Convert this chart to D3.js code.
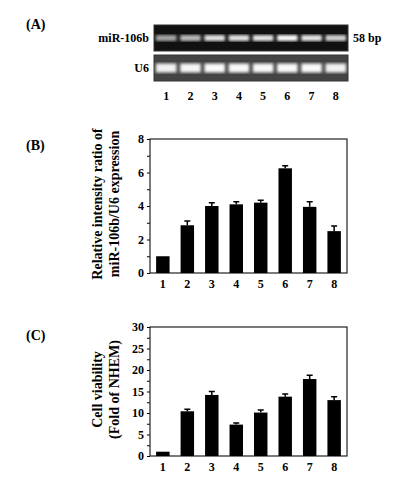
<!DOCTYPE html>
<html><head><meta charset="utf-8">
<script src="https://cdn.jsdelivr.net/npm/d3@7"></script>
<style>
body{margin:0;background:#fff}
text{font-family:"Liberation Serif","DejaVu Serif",serif;font-weight:bold}
</style></head><body>
<script>
const lanes = ["1","2","3","4","5","6","7","8"];
const mirBand = [0.55, 0.62, 0.8, 0.8, 0.82, 0.95, 0.82, 0.72];
const u6Band = [0.9, 0.93, 0.97, 0.95, 0.95, 0.95, 0.95, 0.9];
const ratio = [1, 2.85, 4.0, 4.1, 4.2, 6.25, 3.95, 2.5];
const ratioErr = [0, 0.25, 0.2, 0.15, 0.15, 0.15, 0.3, 0.3];
const viability = [1, 10.4, 14.2, 7.3, 10.1, 13.8, 17.9, 13.0];
const viabilityErr = [0, 0.5, 0.8, 0.4, 0.6, 0.6, 0.9, 0.8];

const svg = d3.select("body").append("svg").attr("width", 400).attr("height", 492);
const defs = svg.append("defs");
defs.append("filter").attr("id", "blur").append("feGaussianBlur").attr("stdDeviation", 1.8);

const panelLabel = (t, x, y) => svg.append("text").attr("x", x).attr("y", y).attr("font-size", 14).text(t);
panelLabel("(A)", 26, 29);
panelLabel("(B)", 26, 150);
panelLabel("(C)", 26, 340);

// gel
const gx = d3.scaleBand().domain(lanes).range([154, 348]).paddingInner(0.15).paddingOuter(0.08);
function gel(y, h, vals, bg, label, bh) {
  svg.append("rect").attr("x", 154).attr("y", y).attr("width", 194).attr("height", h).attr("fill", bg).attr("stroke", "#333");
  svg.append("g").attr("filter", "url(#blur)").selectAll("rect").data(vals).join("rect")
    .attr("x", (d, i) => gx(lanes[i])).attr("width", gx.bandwidth())
    .attr("y", y + h / 2 - bh / 2).attr("height", bh)
    .attr("fill", d => d3.interpolateGreys(1 - d));
  svg.append("text").attr("x", 149).attr("y", y + h / 2 + 4).attr("text-anchor", "end").attr("font-size", 12).text(label);
}
gel(25, 26, mirBand, "#111", "miR-106b", 6);
gel(55, 26, u6Band, "#444", "U6", 9);
svg.append("text").attr("x", 353).attr("y", 42).attr("font-size", 12).text("58 bp");
svg.append("g").selectAll("text").data(lanes).join("text")
  .attr("x", d => gx(d) + gx.bandwidth() / 2).attr("y", 100).attr("text-anchor", "middle").attr("font-size", 12).text(d => d);

function barChart(top, bottom, max, step, vals, errs, titleLines) {
  const x = d3.scaleBand().domain(lanes).range([150, 347]).paddingInner(0.45).paddingOuter(0.25);
  const y = d3.scaleLinear().domain([0, max]).range([bottom, top]);
  const g = svg.append("g");
  g.append("g").attr("transform", `translate(150,0)`)
    .call(d3.axisLeft(y).tickValues(d3.range(0, max + 0.01, step / 2)).tickSize(3)
      .tickFormat(d => (Math.abs(d / step - Math.round(d / step)) < 1e-6 ? d : "")))
    .call(a => a.selectAll("text").attr("font-size", 12).attr("fill", "#000").style("font-family", "Liberation Serif").style("font-weight", "bold"))
    .call(a => a.select(".domain").remove());
  g.append("rect").attr("x", 150).attr("y", top).attr("width", 197).attr("height", bottom - top)
    .attr("fill", "none").attr("stroke", "#222").attr("stroke-width", 1.2);
  g.selectAll(".bar").data(vals).join("rect").attr("class", "bar")
    .attr("x", (d, i) => x(lanes[i])).attr("width", x.bandwidth())
    .attr("y", d => y(d)).attr("height", d => bottom - y(d)).attr("fill", "#000");
  g.selectAll(".err").data(vals).join("path").attr("class", "err")
    .attr("d", (d, i) => {
      const cx = x(lanes[i]) + x.bandwidth() / 2, e = y(d + errs[i]);
      return errs[i] ? `M${cx},${y(d)}V${e}M${cx - 3},${e}H${cx + 3}` : "";
    }).attr("stroke", "#000").attr("stroke-width", 1.5);
  g.append("g").selectAll("text").data(lanes).join("text")
    .attr("x", d => x(d) + x.bandwidth() / 2).attr("y", bottom + 15).attr("text-anchor", "middle").attr("font-size", 12).text(d => d);
  const t = g.append("text").attr("transform", `translate(102,${(top + bottom) / 2 - 2}) rotate(-90)`)
    .attr("text-anchor", "middle").attr("font-size", 14);
  titleLines.forEach((l, i) => t.append("tspan").attr("x", 0).attr("dy", i ? 17 : 0).text(l));
}
barChart(139, 273, 8, 2, ratio, ratioErr, ["Relative intensity ratio of", "miR-106b/U6  expression"]);
barChart(327, 456, 30, 5, viability, viabilityErr, ["Cell  viability", "(Fold of NHEM)"]);
</script>
</body></html>
